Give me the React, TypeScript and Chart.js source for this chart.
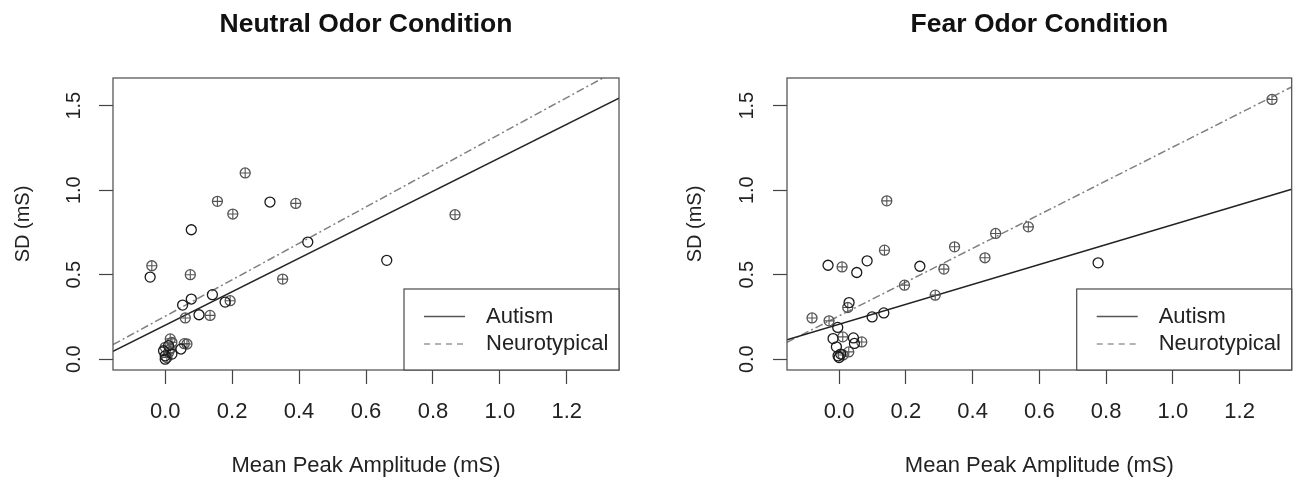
import React, { useEffect, useRef } from "react";
import { Chart, registerables } from "chart.js";

Chart.register(...registerables);

// ---------- axis ranges & ticks ----------
const X_MIN = -0.156;
const X_MAX = 1.356;
const Y_MIN = -0.064;
const Y_MAX = 1.664;
const xTicks = [0, 0.2, 0.4, 0.6, 0.8, 1.0, 1.2];
const yTicks = [0, 0.5, 1.0, 1.5];

const legendLabels = ["Autism", "Neurotypical"];
const titles = ["Neutral Odor Condition", "Fear Odor Condition"];
const xTitle = "Mean Peak Amplitude (mS)";
const yTitle = "SD (mS)";

// ---------- Neutral odor data ----------
const neutralAutismX = [0.313, 0.078, 0.426, 0.662, -0.045, 0.141, 0.078, 0.052, 0.179, 0.101, 0.047, 0.0, -0.005, 0.02, 0.0, 0.01];
const neutralAutismY = [0.93, 0.766, 0.693, 0.585, 0.486, 0.382, 0.356, 0.32, 0.338, 0.263, 0.06, 0.02, 0.05, 0.03, 0.0, 0.08];
const neutralNTX = [0.239, 0.156, 0.39, 0.202, -0.04, 0.075, 0.351, 0.194, 0.06, 0.134, 0.866, 0.015, 0.057, 0.065, 0.0, 0.01, 0.005, 0.015, 0.02];
const neutralNTY = [1.102, 0.934, 0.922, 0.859, 0.553, 0.5, 0.474, 0.346, 0.244, 0.259, 0.855, 0.12, 0.092, 0.09, 0.07, 0.04, 0.01, 0.06, 0.1];
const neutralLineX = [X_MIN, X_MAX];
const neutralAutismLineY = [0.046, 1.545];
const neutralNTLineY = [0.086, 1.716];

// ---------- Fear odor data ----------
const fearAutismX = [-0.033, 0.053, 0.084, 0.242, 0.03, 0.134, 0.099, -0.004, -0.018, 0.043, -0.008, 0.046, 0.0, 0.005, -0.003, 0.776];
const fearAutismY = [0.556, 0.513, 0.582, 0.55, 0.335, 0.274, 0.25, 0.188, 0.122, 0.126, 0.073, 0.093, 0.01, 0.03, 0.02, 0.57];
const fearNTX = [0.143, 0.136, 0.009, 0.346, 0.314, 0.437, 0.469, 0.567, 0.196, 0.288, 0.026, -0.081, -0.03, 0.011, 0.068, 0.029, 0.012, 1.297];
const fearNTY = [0.937, 0.645, 0.546, 0.665, 0.533, 0.6, 0.744, 0.783, 0.438, 0.379, 0.306, 0.244, 0.227, 0.132, 0.102, 0.043, 0.025, 1.537];
const fearLineX = [X_MIN, X_MAX];
const fearAutismLineY = [0.115, 1.006];
const fearNTLineY = [0.1, 1.611];

const FONT = '"Liberation Sans", Arial, Helvetica, sans-serif';
const AUT_COLOR = "#1a1a1a";
const NT_COLOR = "#555555";

const pts = (xs: number[], ys: number[]) => xs.map((x, i) => ({ x, y: ys[i] }));

type PanelProps = {
  title: string;
  autX: number[];
  autY: number[];
  ntX: number[];
  ntY: number[];
  lineX: number[];
  autLineY: number[];
  ntLineY: number[];
  yAxisWidth: number;
  rightPad: number;
  yTitlePad: number;
  yTickPad: number;
};

function Panel(p: PanelProps) {
  const ref = useRef<HTMLCanvasElement | null>(null);
  useEffect(() => {
    if (!ref.current) return;
    const decor = {
      id: "decor",
      afterDraw(chart: any) {
        const { ctx, chartArea: a } = chart;
        ctx.save();
        // box
        ctx.strokeStyle = "#4a4a4a";
        ctx.lineWidth = 1.2;
        ctx.setLineDash([]);
        ctx.strokeRect(a.left, a.top, a.right - a.left, a.bottom - a.top);
        // title
        ctx.fillStyle = "#111";
        ctx.font = `bold 26.5px ${FONT}`;
        ctx.textAlign = "center";
        ctx.textBaseline = "alphabetic";
        ctx.fillText(p.title, (a.left + a.right) / 2, 32);
        // legend
        const lw = 215;
        const lh = 81;
        const lx = a.right - lw;
        const ly = a.bottom - lh;
        ctx.fillStyle = "#fff";
        ctx.fillRect(lx, ly, lw, lh);
        ctx.strokeRect(lx, ly, lw, lh);
        const rows = [ly + 27.5, ly + 55];
        ctx.lineWidth = 1.3;
        ctx.strokeStyle = "#555";
        ctx.beginPath();
        ctx.moveTo(lx + 20, rows[0]);
        ctx.lineTo(lx + 61, rows[0]);
        ctx.stroke();
        ctx.strokeStyle = "#999";
        ctx.setLineDash([6, 5]);
        ctx.beginPath();
        ctx.moveTo(lx + 20, rows[1]);
        ctx.lineTo(lx + 63, rows[1]);
        ctx.stroke();
        ctx.setLineDash([]);
        ctx.fillStyle = "#222";
        ctx.font = `22px ${FONT}`;
        ctx.textAlign = "left";
        ctx.textBaseline = "middle";
        ctx.fillText(legendLabels[0], lx + 82, rows[0]);
        ctx.fillText(legendLabels[1], lx + 82, rows[1]);
        ctx.restore();
      },
    };
    const chart = new Chart(ref.current, {
      type: "scatter",
      data: {
        datasets: [
          {
            label: legendLabels[0],
            data: pts(p.autX, p.autY),
            pointStyle: "circle",
            pointRadius: 5,
            pointBorderWidth: 1.3,
            borderColor: AUT_COLOR,
            backgroundColor: "rgba(0,0,0,0)",
          },
          {
            label: legendLabels[1],
            data: pts(p.ntX, p.ntY),
            pointStyle: "circle",
            pointRadius: 5,
            pointBorderWidth: 1.3,
            borderColor: NT_COLOR,
            backgroundColor: "rgba(0,0,0,0)",
          },
          {
            label: legendLabels[1] + " +",
            data: pts(p.ntX, p.ntY),
            pointStyle: "cross",
            pointRadius: 5,
            pointBorderWidth: 1.1,
            borderColor: NT_COLOR,
            backgroundColor: "rgba(0,0,0,0)",
          },
          {
            label: legendLabels[0] + " fit",
            data: pts(p.lineX, p.autLineY),
            showLine: true,
            pointRadius: 0,
            borderColor: "#222",
            borderWidth: 1.5,
            clip: 0,
          } as any,
          {
            label: legendLabels[1] + " fit",
            data: pts(p.lineX, p.ntLineY),
            showLine: true,
            pointRadius: 0,
            borderColor: "#808080",
            borderWidth: 1.5,
            borderDash: [8, 3, 2, 3],
            clip: 0,
          } as any,
        ],
      },
      options: {
        responsive: false,
        animation: false,
        events: [],
        layout: { padding: { left: 0, right: p.rightPad, top: 78, bottom: 0 } },
        plugins: {
          legend: { display: false },
          title: { display: false },
          tooltip: { enabled: false },
        },
        scales: {
          x: {
            type: "linear",
            min: X_MIN,
            max: X_MAX,
            afterBuildTicks: (s: any) => {
              s.ticks = xTicks.map((v) => ({ value: v }));
            },
            afterFit: (s: any) => {
              s.height = 109;
            },
            border: { display: false },
            grid: {
              display: true,
              drawOnChartArea: false,
              drawTicks: true,
              tickLength: 14,
              tickColor: "#444",
              tickWidth: 1.2,
            },
            ticks: {
              autoSkip: false,
              maxRotation: 0,
              minRotation: 0,
              padding: 14.5,
              color: "#222",
              font: { family: FONT, size: 22 },
              callback: (v: any) => Number(v).toFixed(1),
            },
            title: {
              display: true,
              text: xTitle,
              color: "#222",
              font: { family: FONT, size: 22 },
              padding: { top: 0, bottom: 0 },
            },
          },
          y: {
            type: "linear",
            min: Y_MIN,
            max: Y_MAX,
            afterBuildTicks: (s: any) => {
              s.ticks = yTicks.map((v) => ({ value: v }));
            },
            afterFit: (s: any) => {
              s.width = p.yAxisWidth;
            },
            border: { display: false },
            grid: {
              display: true,
              drawOnChartArea: false,
              drawTicks: true,
              tickLength: 14,
              tickColor: "#444",
              tickWidth: 1.2,
            },
            ticks: {
              autoSkip: false,
              minRotation: 90,
              maxRotation: 90,
              crossAlign: "center",
              padding: p.yTickPad,
              color: "#222",
              font: { family: FONT, size: 20 },
              callback: (v: any) => Number(v).toFixed(1),
            },
            title: {
              display: true,
              text: yTitle,
              color: "#222",
              font: { family: FONT, size: 20 },
              padding: { top: p.yTitlePad, bottom: 0 },
            },
          },
        },
      } as any,
      plugins: [decor],
    });
    return () => chart.destroy();
  }, []);
  return <canvas ref={ref} width={649} height={479} style={{ display: "block", width: 649, height: 479 }} />;
}

export default function App() {
  return (
    <div
      style={{
        position: "absolute",
        left: 0,
        top: 0,
        width: 1298,
        height: 479,
        display: "flex",
        background: "#fff",
      }}
    >
      <Panel
        title={titles[0]}
        autX={neutralAutismX}
        autY={neutralAutismY}
        ntX={neutralNTX}
        ntY={neutralNTY}
        lineX={neutralLineX}
        autLineY={neutralAutismLineY}
        ntLineY={neutralNTLineY}
        yAxisWidth={113}
        rightPad={30}
        yTitlePad={11}
        yTickPad={11}
      />
      <Panel
        title={titles[1]}
        autX={fearAutismX}
        autY={fearAutismY}
        ntX={fearNTX}
        ntY={fearNTY}
        lineX={fearLineX}
        autLineY={fearAutismLineY}
        ntLineY={fearNTLineY}
        yAxisWidth={138}
        rightPad={5}
        yTitlePad={34}
        yTickPad={12}
      />
    </div>
  );
}
